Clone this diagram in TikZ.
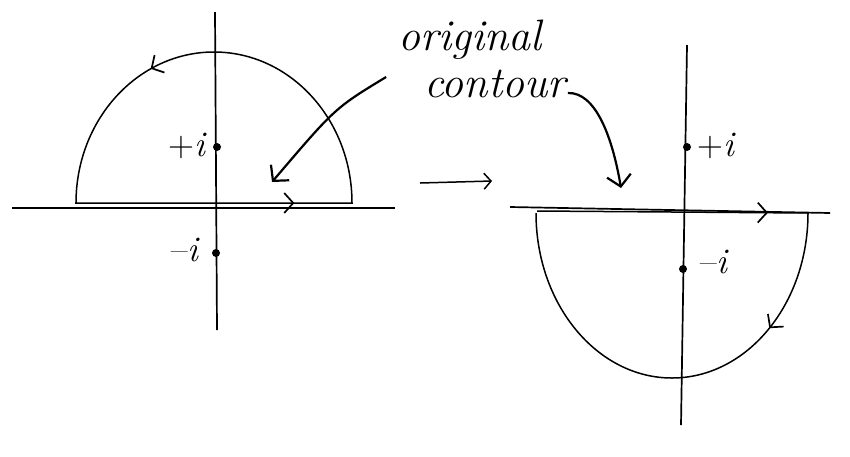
\documentclass[tikz,border=0pt]{standalone}
\usetikzlibrary{arrows.meta,decorations.markings}
\begin{document}
\begin{tikzpicture}[x=1pt,y=-1pt,
	axis/.style={line width=1.7pt},
	contour line/.style={line width=1.5pt},
	barb/.tip={Straight Barb[length=9pt,width=20pt,line width=1.7pt]},
	flow/.style 2 args={postaction={decorate},decoration={markings,mark=at position #1 with {\arrow{barb}},mark=at position #2 with {\arrow{barb}}}},
	pointer/.style={line width=2.2pt,-{Straight Barb[length=11pt,width=24pt,line width=2.2pt]}},
	dot/.style={circle,fill,inner sep=0pt,minimum size=8pt},
	lbl/.style={font=\fontsize{36}{38}\selectfont},
	note/.style={font=\fontsize{44}{48}\selectfont\itshape,inner sep=0pt}]
	\useasboundingbox (0,0) rectangle (850,456);
	% left plane and upper contour
	\draw[axis] (12,208) -- (395,208);
	\draw[axis] (215,12) -- (217,330);
	\draw[contour line,flow={0.30}{0.78}] (75,203) -- (352,203) arc[start angle=0,end angle=-180,x radius=138,y radius=151];
	\node[dot] (lp) at (217,147) {};
	\node[dot] (lm) at (216,253) {};
	\node[lbl] (lpl) at (188,146) {+\textit{i}};
	\node[lbl] (lml) at (186,250) {--\textit{i}};
	% right plane and lower contour
	\draw[axis] (510,207) -- (830,213);
	\draw[axis] (687,45) -- (681,425);
	\draw[contour line,flow={0.31}{0.53}] (537,211) -- (808,213) arc[start angle=0,end angle=180,x radius=136,y radius=165];
	\node[dot] (rp) at (687,147) {};
	\node[dot] (rm) at (683,269) {};
	\node[lbl] (rpl) at (717,146) {+\textit{i}};
	\node[lbl] (rml) at (715,262) {--\textit{i}};
	% label and pointers
	\node[note] (orig) at (470,40) {original};
	\node[note] (cont) at (495,84) {contour};
	\coordinate (tipl) at (272,182);
	\coordinate (tipr) at (621,188);
	\draw[pointer] ([xshift=-38pt,yshift=7pt]cont.west) .. controls (335,108) .. (tipl);
	\draw[pointer] ([xshift=2pt,yshift=-9pt]cont.east) .. controls (595,92) and (612,135) .. (tipr);
	% map arrow
	\coordinate (mapa) at (420,183);
	\coordinate (mapb) at (492,181);
	\draw[line width=1.5pt,-{Straight Barb[length=7pt,width=16pt,line width=1.5pt]}] (mapa) -- (mapb);
\end{tikzpicture}
\end{document}
